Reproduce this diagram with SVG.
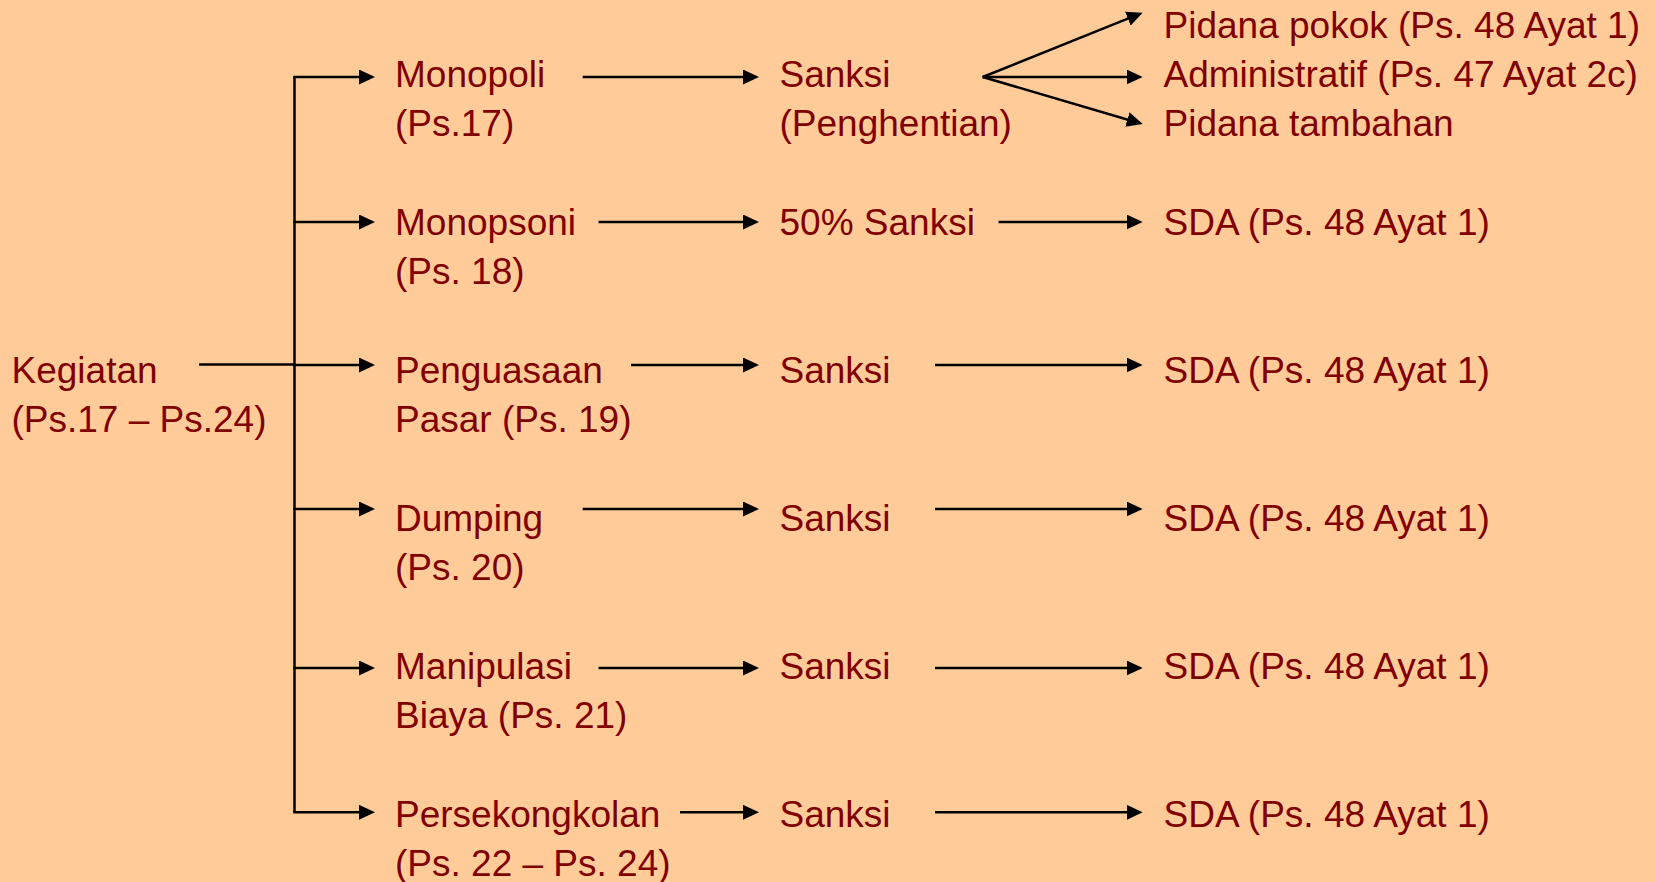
<svg xmlns="http://www.w3.org/2000/svg" width="1655" height="882" viewBox="0 0 1655 882">
<style>
text{font-family:"Liberation Sans",Arial,sans-serif;font-size:37px;fill:#800000}
.c{stroke:#000;stroke-width:2.5;fill:none}
.a{marker-end:url(#ah)}
</style>
<defs>
<marker id="ah" markerUnits="userSpaceOnUse" viewBox="0 0 16 15" markerWidth="16" markerHeight="15" refX="6" refY="7.5" orient="auto">
<path d="M0,0 L16,7.5 L0,15 Z" fill="#000"/>
</marker>
</defs>
<rect x="0" y="0" width="1655" height="882" fill="#FFCC99"/>
<g id="connectors">
<line class="c" x1="199" y1="364.5" x2="294.5" y2="364.5"/>
<line class="c" x1="294.5" y1="76.5" x2="294.5" y2="812.5"/>
<line class="c a" x1="293.3" y1="77" x2="365" y2="77"/>
<line class="c a" x1="293.3" y1="222" x2="365" y2="222"/>
<line class="c a" x1="293.3" y1="365" x2="365" y2="365"/>
<line class="c a" x1="293.3" y1="509" x2="365" y2="509"/>
<line class="c a" x1="293.3" y1="668" x2="365" y2="668"/>
<line class="c a" x1="293.3" y1="812.3" x2="365" y2="812.3"/>
<line class="c a" x1="582.7" y1="77" x2="749" y2="77"/>
<line class="c a" x1="598.5" y1="222" x2="749" y2="222"/>
<line class="c a" x1="631" y1="365" x2="749" y2="365"/>
<line class="c a" x1="582.7" y1="509" x2="749" y2="509"/>
<line class="c a" x1="598.5" y1="668" x2="749" y2="668"/>
<line class="c a" x1="680" y1="812.3" x2="749" y2="812.3"/>
<line class="c a" x1="982.7" y1="77" x2="1133.4" y2="16.4"/>
<line class="c a" x1="982.7" y1="77" x2="1132.7" y2="77"/>
<line class="c a" x1="982.7" y1="77" x2="1133.1" y2="121.2"/>
<line class="c a" x1="998.5" y1="222" x2="1132.7" y2="222"/>
<line class="c a" x1="935" y1="365" x2="1132.7" y2="365"/>
<line class="c a" x1="935" y1="509" x2="1132.7" y2="509"/>
<line class="c a" x1="935" y1="668" x2="1132.7" y2="668"/>
<line class="c a" x1="935" y1="812.3" x2="1132.7" y2="812.3"/>
</g>
<g id="kegiatan"><text x="11.5" y="383">Kegiatan</text><text x="11.5" y="432.3">(Ps.17 – Ps.24)</text></g>
<g id="monopoli"><text x="395" y="87">Monopoli</text><text x="395" y="136.3">(Ps.17)</text></g>
<g id="monopsoni"><text x="395" y="235">Monopsoni</text><text x="395" y="284.3">(Ps. 18)</text></g>
<g id="penguasaan"><text x="395" y="383">Penguasaan</text><text x="395" y="432.3">Pasar (Ps. 19)</text></g>
<g id="dumping"><text x="395" y="531">Dumping</text><text x="395" y="580.3">(Ps. 20)</text></g>
<g id="manipulasi"><text x="395" y="679">Manipulasi</text><text x="395" y="728.3">Biaya (Ps. 21)</text></g>
<g id="persekongkolan"><text x="395" y="827">Persekongkolan</text><text x="395" y="876.3">(Ps. 22 – Ps. 24)</text></g>
<g id="sanksi1"><text x="779.5" y="87">Sanksi</text><text x="779.5" y="136.3">(Penghentian)</text></g>
<g id="sanksi2"><text x="779.5" y="235">50% Sanksi</text></g>
<g id="sanksi3"><text x="779.5" y="383">Sanksi</text></g>
<g id="sanksi4"><text x="779.5" y="531">Sanksi</text></g>
<g id="sanksi5"><text x="779.5" y="679">Sanksi</text></g>
<g id="sanksi6"><text x="779.5" y="827">Sanksi</text></g>
<g id="pidana-pokok"><text x="1163.5" y="37.7">Pidana pokok (Ps. 48 Ayat 1)</text></g>
<g id="administratif"><text x="1163.5" y="87">Administratif (Ps. 47 Ayat 2c)</text></g>
<g id="pidana-tambahan"><text x="1163.5" y="136.3">Pidana tambahan</text></g>
<g id="sda2"><text x="1163.5" y="235">SDA (Ps. 48 Ayat 1)</text></g>
<g id="sda3"><text x="1163.5" y="383">SDA (Ps. 48 Ayat 1)</text></g>
<g id="sda4"><text x="1163.5" y="531">SDA (Ps. 48 Ayat 1)</text></g>
<g id="sda5"><text x="1163.5" y="679">SDA (Ps. 48 Ayat 1)</text></g>
<g id="sda6"><text x="1163.5" y="827">SDA (Ps. 48 Ayat 1)</text></g>
</svg>
